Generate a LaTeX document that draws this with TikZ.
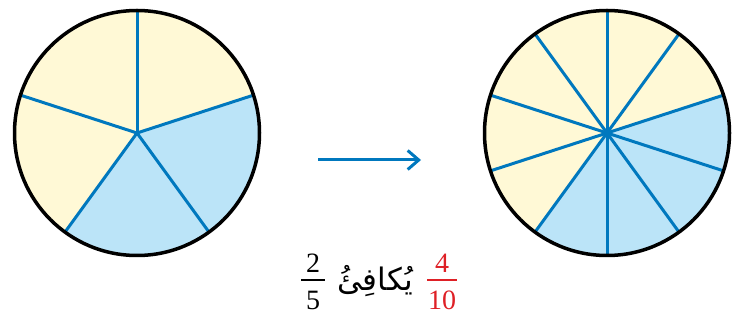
\documentclass[tikz,border=0pt]{standalone}
\usepackage{fontspec}
\usetikzlibrary{arrows.meta}
\newfontfamily\arabicfont[Script=Arabic]{DejaVu Sans}
\newfontfamily\digitfont{Liberation Serif}
\TeXXeTstate=1
\definecolor{pieyellow}{RGB}{255,249,214}
\definecolor{pieblue}{RGB}{187,228,248}
\definecolor{spoke}{RGB}{0,120,190}
\definecolor{fracred}{RGB}{222,32,38}
\tikzset{
  spokeline/.style={draw=spoke, line width=3pt},
  rim/.style={draw=black, line width=3.5pt},
  digits/.style={font=\digitfont\fontsize{28}{32}\selectfont, inner sep=0pt, anchor=base},
  fracbar/.style={line width=1.3pt},
}
\begin{document}
\begin{tikzpicture}[x=1pt,y=-1pt]
\useasboundingbox (0,0) rectangle (739,320);
\def\R{122.5}
% left circle
\coordinate (L) at (137,133);
\fill[pieyellow] (L) circle (\R);
\fill[pieblue] (L) -- ++(-18:{\R}) arc[start angle=-18, end angle=126, radius=\R] -- cycle;
\foreach \a in {90,162,234,306,18}{
  \draw[spokeline] (L) -- ++({-\a}:{\R});
}
\draw[rim] (L) circle (\R);
% right circle
\coordinate (Rc) at (607,133);
\fill[pieyellow] (Rc) circle (\R);
\fill[pieblue] (Rc) -- ++(-18:{\R}) arc[start angle=-18, end angle=126, radius=\R] -- cycle;
\foreach \a in {90,54,18,-18,-54,-90,-126,-162,162,126}{
  \draw[spokeline] (Rc) -- ++({-\a}:{\R});
}
\draw[rim] (Rc) circle (\R);
% arrow
\coordinate (A1) at (318,160);
\coordinate (A2) at (421,160);
\draw[spoke, line width=3pt, -{Straight Barb[length=11pt,width=19pt,line width=3pt]}] (A1) -- (A2);
% fraction 2/5
\node[digits] (n1) at (313,273) {2};
\node[digits] (d1) at (313,309) {5};
\coordinate (b1l) at (301,280);
\coordinate (b1r) at (325,280);
\draw[fracbar] (b1l) -- (b1r);
% word
\node[inner sep=0pt, font=\arabicfont\fontsize{31}{36}\selectfont] (w) at (375,281) {\beginR يُكافِئُ\endR};
% fraction 4/10
\node[digits, text=fracred] (n2) at (442,273) {4};
\node[digits, text=fracred] (d2) at (442,309) {10};
\coordinate (b2l) at (427,280);
\coordinate (b2r) at (457,280);
\draw[fracbar, fracred] (b2l) -- (b2r);
\end{tikzpicture}
\end{document}
